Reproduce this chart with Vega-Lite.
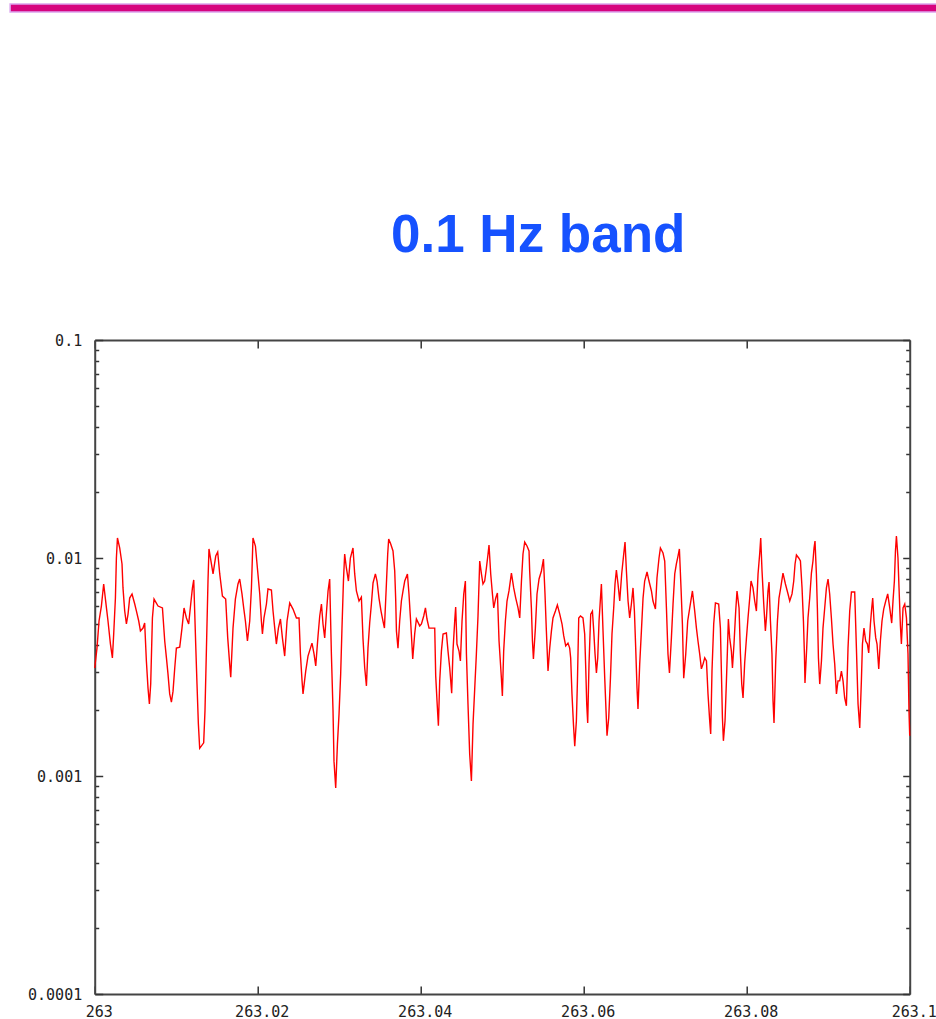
{
  "$schema": "https://vega.github.io/schema/vega-lite/v6.json",
  "background": "white",
  "padding": {"left": 9, "top": 3, "right": 0, "bottom": 0},
  "spacing": 197,
  "center": true,
  "config": {
    "view": {"stroke": null},
    "axis": {"grid": false, "domainColor": "#444444", "domainWidth": 2, "tickColor": "#333333", "tickWidth": 1.5, "labelFont": "DejaVu Sans Mono", "labelFontSize": 15, "labelColor": "#222222", "title": null}
  },
  "vconcat": [
    {
      "width": 1010,
      "height": 8,
      "data": {"values": [{}]},
      "mark": {"type": "rect", "fill": "#d6047f", "stroke": "#dba4ee", "strokeWidth": 1.5},
      "encoding": {}
    },
    {
      "width": 815,
      "height": 654,
      "title": {"text": "0.1 Hz band", "font": "Liberation Sans", "fontSize": 53, "fontWeight": "bold", "color": "#1652ff", "anchor": "middle", "frame": "group", "dx": 36, "offset": 28, "baseline": "alphabetic"},
      "data": {"values": [
        {"x":263.00000,"y":0.00313},{"x":263.00028,"y":0.00386},{"x":263.00053,"y":0.00514},{"x":263.00082,"y":0.00602},{"x":263.00110,"y":0.00760},
        {"x":263.00144,"y":0.00590},{"x":263.00163,"y":0.00514},{"x":263.00193,"y":0.00403},{"x":263.00217,"y":0.00348},{"x":263.00233,"y":0.00448},
        {"x":263.00254,"y":0.00655},{"x":263.00266,"y":0.01000},{"x":263.00279,"y":0.01235},{"x":263.00307,"y":0.01111},{"x":263.00335,"y":0.00939},
        {"x":263.00347,"y":0.00729},{"x":263.00368,"y":0.00571},{"x":263.00389,"y":0.00498},{"x":263.00409,"y":0.00553},{"x":263.00429,"y":0.00655},
        {"x":263.00458,"y":0.00684},{"x":263.00491,"y":0.00615},{"x":263.00512,"y":0.00571},{"x":263.00540,"y":0.00514},{"x":263.00561,"y":0.00463},
        {"x":263.00593,"y":0.00477},{"x":263.00613,"y":0.00503},{"x":263.00634,"y":0.00337},{"x":263.00654,"y":0.00253},{"x":263.00671,"y":0.00214},
        {"x":263.00687,"y":0.00264},{"x":263.00708,"y":0.00531},{"x":263.00728,"y":0.00648},{"x":263.00777,"y":0.00602},{"x":263.00831,"y":0.00590},
        {"x":263.00859,"y":0.00416},{"x":263.00880,"y":0.00348},{"x":263.00899,"y":0.00294},{"x":263.00920,"y":0.00238},{"x":263.00941,"y":0.00218},
        {"x":263.00961,"y":0.00245},{"x":263.00982,"y":0.00313},{"x":263.01002,"y":0.00386},{"x":263.01043,"y":0.00390},{"x":263.01071,"y":0.00477},
        {"x":263.01096,"y":0.00590},{"x":263.01125,"y":0.00531},{"x":263.01153,"y":0.00498},{"x":263.01178,"y":0.00615},{"x":263.01199,"y":0.00729},
        {"x":263.01215,"y":0.00793},{"x":263.01239,"y":0.00403},{"x":263.01255,"y":0.00264},{"x":263.01272,"y":0.00173},{"x":263.01288,"y":0.00134},
        {"x":263.01337,"y":0.00142},{"x":263.01353,"y":0.00199},{"x":263.01371,"y":0.00386},{"x":263.01390,"y":0.00784},{"x":263.01402,"y":0.01100},
        {"x":263.01432,"y":0.00939},{"x":263.01452,"y":0.00845},{"x":263.01485,"y":0.01021},{"x":263.01509,"y":0.01065},{"x":263.01534,"y":0.00845},
        {"x":263.01567,"y":0.00669},{"x":263.01607,"y":0.00648},{"x":263.01632,"y":0.00430},{"x":263.01656,"y":0.00326},{"x":263.01669,"y":0.00284},
        {"x":263.01697,"y":0.00477},{"x":263.01726,"y":0.00648},{"x":263.01758,"y":0.00760},{"x":263.01779,"y":0.00801},{"x":263.01807,"y":0.00684},
        {"x":263.01828,"y":0.00590},{"x":263.01849,"y":0.00514},{"x":263.01874,"y":0.00416},{"x":263.01902,"y":0.00514},{"x":263.01923,"y":0.00729},
        {"x":263.01942,"y":0.01235},{"x":263.01972,"y":0.01135},{"x":263.01996,"y":0.00900},{"x":263.02025,"y":0.00684},{"x":263.02045,"y":0.00514},
        {"x":263.02058,"y":0.00448},{"x":263.02077,"y":0.00531},{"x":263.02107,"y":0.00615},{"x":263.02126,"y":0.00721},{"x":263.02168,"y":0.00713},
        {"x":263.02188,"y":0.00571},{"x":263.02209,"y":0.00477},{"x":263.02229,"y":0.00403},{"x":263.02254,"y":0.00477},{"x":263.02279,"y":0.00525},
        {"x":263.02303,"y":0.00430},{"x":263.02331,"y":0.00355},{"x":263.02360,"y":0.00514},{"x":263.02393,"y":0.00622},{"x":263.02433,"y":0.00583},
        {"x":263.02475,"y":0.00531},{"x":263.02507,"y":0.00531},{"x":263.02524,"y":0.00363},{"x":263.02544,"y":0.00273},{"x":263.02556,"y":0.00238},
        {"x":263.02589,"y":0.00303},{"x":263.02617,"y":0.00355},{"x":263.02647,"y":0.00386},{"x":263.02666,"y":0.00407},{"x":263.02691,"y":0.00363},
        {"x":263.02712,"y":0.00320},{"x":263.02740,"y":0.00439},{"x":263.02761,"y":0.00542},{"x":263.02782,"y":0.00615},{"x":263.02801,"y":0.00498},
        {"x":263.02822,"y":0.00430},{"x":263.02843,"y":0.00559},{"x":263.02863,"y":0.00706},{"x":263.02883,"y":0.00801},{"x":263.02904,"y":0.00363},
        {"x":263.02924,"y":0.00199},{"x":263.02936,"y":0.00117},{"x":263.02957,"y":0.000881},{"x":263.02978,"y":0.00140},{"x":263.02998,"y":0.00193},
        {"x":263.03018,"y":0.00294},{"x":263.03034,"y":0.00477},{"x":263.03052,"y":0.00784},{"x":263.03067,"y":0.01043},{"x":263.03088,"y":0.00900},
        {"x":263.03113,"y":0.00784},{"x":263.03137,"y":0.01000},{"x":263.03169,"y":0.01111},{"x":263.03190,"y":0.00845},{"x":263.03211,"y":0.00706},
        {"x":263.03243,"y":0.00635},{"x":263.03272,"y":0.00662},{"x":263.03292,"y":0.00425},{"x":263.03313,"y":0.00313},{"x":263.03334,"y":0.00259},
        {"x":263.03353,"y":0.00386},{"x":263.03374,"y":0.00503},{"x":263.03395,"y":0.00615},{"x":263.03415,"y":0.00768},{"x":263.03444,"y":0.00845},
        {"x":263.03464,"y":0.00784},{"x":263.03488,"y":0.00655},{"x":263.03513,"y":0.00571},{"x":263.03537,"y":0.00514},{"x":263.03555,"y":0.00477},
        {"x":263.03579,"y":0.00760},{"x":263.03595,"y":0.01043},{"x":263.03607,"y":0.01222},{"x":263.03632,"y":0.01159},{"x":263.03660,"y":0.01077},
        {"x":263.03681,"y":0.00872},{"x":263.03693,"y":0.00648},{"x":263.03702,"y":0.00463},{"x":263.03721,"y":0.00386},{"x":263.03742,"y":0.00514},
        {"x":263.03763,"y":0.00635},{"x":263.03783,"y":0.00706},{"x":263.03804,"y":0.00784},{"x":263.03837,"y":0.00845},{"x":263.03856,"y":0.00684},
        {"x":263.03874,"y":0.00531},{"x":263.03890,"y":0.00416},{"x":263.03902,"y":0.00344},{"x":263.03926,"y":0.00448},{"x":263.03947,"y":0.00525},
        {"x":263.03988,"y":0.00488},{"x":263.04009,"y":0.00498},{"x":263.04037,"y":0.00542},{"x":263.04058,"y":0.00590},{"x":263.04077,"y":0.00525},
        {"x":263.04102,"y":0.00477},{"x":263.04172,"y":0.00477},{"x":263.04184,"y":0.00288},{"x":263.04200,"y":0.00221},{"x":263.04217,"y":0.00170},
        {"x":263.04233,"y":0.00273},{"x":263.04254,"y":0.00374},{"x":263.04274,"y":0.00448},{"x":263.04315,"y":0.00453},{"x":263.04335,"y":0.00374},
        {"x":263.04356,"y":0.00313},{"x":263.04380,"y":0.00240},{"x":263.04396,"y":0.00374},{"x":263.04417,"y":0.00514},{"x":263.04429,"y":0.00596},
        {"x":263.04445,"y":0.00403},{"x":263.04470,"y":0.00374},{"x":263.04487,"y":0.00337},{"x":263.04507,"y":0.00514},{"x":263.04528,"y":0.00684},
        {"x":263.04548,"y":0.00784},{"x":263.04561,"y":0.00363},{"x":263.04580,"y":0.00214},{"x":263.04601,"y":0.00126},{"x":263.04622,"y":0.000949},
        {"x":263.04642,"y":0.00173},{"x":263.04663,"y":0.00253},{"x":263.04683,"y":0.00363},{"x":263.04703,"y":0.00542},{"x":263.04724,"y":0.00969},
        {"x":263.04745,"y":0.00845},{"x":263.04764,"y":0.00760},{"x":263.04785,"y":0.00784},{"x":263.04806,"y":0.00900},{"x":263.04826,"y":0.01043},
        {"x":263.04838,"y":0.01147},{"x":263.04859,"y":0.00845},{"x":263.04880,"y":0.00684},{"x":263.04896,"y":0.00590},{"x":263.04920,"y":0.00655},
        {"x":263.04941,"y":0.00691},{"x":263.04961,"y":0.00416},{"x":263.04990,"y":0.00281},{"x":263.05002,"y":0.00233},{"x":263.05018,"y":0.00374},
        {"x":263.05039,"y":0.00514},{"x":263.05059,"y":0.00635},{"x":263.05083,"y":0.00706},{"x":263.05113,"y":0.00853},{"x":263.05141,"y":0.00729},
        {"x":263.05166,"y":0.00655},{"x":263.05194,"y":0.00590},{"x":263.05215,"y":0.00531},{"x":263.05236,"y":0.00784},{"x":263.05255,"y":0.01043},
        {"x":263.05276,"y":0.01184},{"x":263.05304,"y":0.01135},{"x":263.05329,"y":0.01077},{"x":263.05337,"y":0.00872},{"x":263.05358,"y":0.00590},
        {"x":263.05371,"y":0.00416},{"x":263.05383,"y":0.00344},{"x":263.05407,"y":0.00477},{"x":263.05427,"y":0.00684},{"x":263.05452,"y":0.00801},
        {"x":263.05481,"y":0.00872},{"x":263.05506,"y":0.00989},{"x":263.05525,"y":0.00684},{"x":263.05542,"y":0.00463},{"x":263.05562,"y":0.00303},
        {"x":263.05583,"y":0.00386},{"x":263.05604,"y":0.00463},{"x":263.05623,"y":0.00531},{"x":263.05653,"y":0.00571},{"x":263.05677,"y":0.00609},
        {"x":263.05706,"y":0.00553},{"x":263.05734,"y":0.00498},{"x":263.05755,"y":0.00439},{"x":263.05779,"y":0.00395},{"x":263.05807,"y":0.00407},
        {"x":263.05828,"y":0.00386},{"x":263.05840,"y":0.00348},{"x":263.05856,"y":0.00238},{"x":263.05874,"y":0.00173},{"x":263.05890,"y":0.00137},
        {"x":263.05910,"y":0.00179},{"x":263.05923,"y":0.00273},{"x":263.05939,"y":0.00531},{"x":263.05960,"y":0.00542},{"x":263.05991,"y":0.00531},
        {"x":263.06012,"y":0.00448},{"x":263.06025,"y":0.00313},{"x":263.06037,"y":0.00214},{"x":263.06049,"y":0.00175},{"x":263.06065,"y":0.00326},
        {"x":263.06086,"y":0.00553},{"x":263.06107,"y":0.00571},{"x":263.06123,"y":0.00463},{"x":263.06139,"y":0.00363},{"x":263.06156,"y":0.00297},
        {"x":263.06172,"y":0.00348},{"x":263.06188,"y":0.00514},{"x":263.06205,"y":0.00648},{"x":263.06217,"y":0.00760},{"x":263.06237,"y":0.00463},
        {"x":263.06258,"y":0.00281},{"x":263.06274,"y":0.00199},{"x":263.06286,"y":0.00153},{"x":263.06307,"y":0.00185},{"x":263.06328,"y":0.00281},
        {"x":263.06347,"y":0.00448},{"x":263.06368,"y":0.00590},{"x":263.06384,"y":0.00760},{"x":263.06401,"y":0.00881},{"x":263.06421,"y":0.00760},
        {"x":263.06442,"y":0.00635},{"x":263.06466,"y":0.00845},{"x":263.06491,"y":0.01043},{"x":263.06507,"y":0.01184},{"x":263.06524,"y":0.00872},
        {"x":263.06544,"y":0.00635},{"x":263.06564,"y":0.00531},{"x":263.06585,"y":0.00615},{"x":263.06605,"y":0.00729},{"x":263.06622,"y":0.00571},
        {"x":263.06638,"y":0.00386},{"x":263.06654,"y":0.00253},{"x":263.06666,"y":0.00203},{"x":263.06687,"y":0.00326},{"x":263.06708,"y":0.00463},
        {"x":263.06728,"y":0.00655},{"x":263.06748,"y":0.00784},{"x":263.06777,"y":0.00863},{"x":263.06801,"y":0.00784},{"x":263.06831,"y":0.00706},
        {"x":263.06850,"y":0.00635},{"x":263.06880,"y":0.00583},{"x":263.06899,"y":0.00810},{"x":263.06924,"y":0.01000},{"x":263.06941,"y":0.01111},
        {"x":263.06973,"y":0.01054},{"x":263.06994,"y":0.00969},{"x":263.07015,"y":0.00590},{"x":263.07034,"y":0.00363},{"x":263.07052,"y":0.00297},
        {"x":263.07076,"y":0.00430},{"x":263.07096,"y":0.00615},{"x":263.07117,"y":0.00845},{"x":263.07137,"y":0.00939},{"x":263.07157,"y":0.01021},
        {"x":263.07174,"y":0.01100},{"x":263.07194,"y":0.00729},{"x":263.07211,"y":0.00498},{"x":263.07227,"y":0.00281},{"x":263.07252,"y":0.00363},
        {"x":263.07276,"y":0.00514},{"x":263.07301,"y":0.00590},{"x":263.07334,"y":0.00706},{"x":263.07362,"y":0.00571},{"x":263.07383,"y":0.00477},
        {"x":263.07402,"y":0.00416},{"x":263.07423,"y":0.00363},{"x":263.07444,"y":0.00310},{"x":263.07464,"y":0.00326},{"x":263.07485,"y":0.00348},
        {"x":263.07506,"y":0.00337},{"x":263.07525,"y":0.00238},{"x":263.07546,"y":0.00179},{"x":263.07558,"y":0.00156},{"x":263.07574,"y":0.00303},
        {"x":263.07595,"y":0.00498},{"x":263.07616,"y":0.00622},{"x":263.07656,"y":0.00615},{"x":263.07677,"y":0.00477},{"x":263.07690,"y":0.00294},
        {"x":263.07702,"y":0.00185},{"x":263.07714,"y":0.00145},{"x":263.07734,"y":0.00179},{"x":263.07751,"y":0.00273},{"x":263.07763,"y":0.00374},
        {"x":263.07775,"y":0.00525},{"x":263.07791,"y":0.00430},{"x":263.07812,"y":0.00374},{"x":263.07825,"y":0.00313},{"x":263.07844,"y":0.00403},
        {"x":263.07865,"y":0.00571},{"x":263.07881,"y":0.00706},{"x":263.07906,"y":0.00590},{"x":263.07923,"y":0.00363},{"x":263.07939,"y":0.00264},
        {"x":263.07955,"y":0.00228},{"x":263.07975,"y":0.00330},{"x":263.07996,"y":0.00425},{"x":263.08016,"y":0.00531},{"x":263.08037,"y":0.00655},
        {"x":263.08053,"y":0.00784},{"x":263.08077,"y":0.00729},{"x":263.08098,"y":0.00635},{"x":263.08119,"y":0.00571},{"x":263.08139,"y":0.00845},
        {"x":263.08160,"y":0.01054},{"x":263.08172,"y":0.01235},{"x":263.08188,"y":0.00872},{"x":263.08209,"y":0.00615},{"x":263.08229,"y":0.00463},
        {"x":263.08242,"y":0.00531},{"x":263.08261,"y":0.00706},{"x":263.08274,"y":0.00776},{"x":263.08291,"y":0.00514},{"x":263.08310,"y":0.00363},
        {"x":263.08323,"y":0.00221},{"x":263.08335,"y":0.00175},{"x":263.08356,"y":0.00337},{"x":263.08377,"y":0.00514},{"x":263.08396,"y":0.00655},
        {"x":263.08417,"y":0.00729},{"x":263.08445,"y":0.00853},{"x":263.08475,"y":0.00760},{"x":263.08507,"y":0.00684},{"x":263.08528,"y":0.00635},
        {"x":263.08556,"y":0.00684},{"x":263.08577,"y":0.00784},{"x":263.08593,"y":0.00939},{"x":263.08610,"y":0.01032},{"x":263.08638,"y":0.01000},
        {"x":263.08659,"y":0.00969},{"x":263.08679,"y":0.00729},{"x":263.08696,"y":0.00514},{"x":263.08708,"y":0.00363},{"x":263.08715,"y":0.00267},
        {"x":263.08736,"y":0.00386},{"x":263.08752,"y":0.00531},{"x":263.08773,"y":0.00655},{"x":263.08794,"y":0.00853},{"x":263.08813,"y":0.00969},
        {"x":263.08826,"y":0.01111},{"x":263.08838,"y":0.01197},{"x":263.08855,"y":0.00845},{"x":263.08867,"y":0.00590},{"x":263.08880,"y":0.00348},
        {"x":263.08896,"y":0.00264},{"x":263.08917,"y":0.00337},{"x":263.08936,"y":0.00477},{"x":263.08957,"y":0.00590},{"x":263.08978,"y":0.00729},
        {"x":263.08998,"y":0.00801},{"x":263.09018,"y":0.00684},{"x":263.09039,"y":0.00531},{"x":263.09059,"y":0.00403},{"x":263.09080,"y":0.00326},
        {"x":263.09101,"y":0.00238},{"x":263.09120,"y":0.00273},{"x":263.09141,"y":0.00273},{"x":263.09162,"y":0.00303},{"x":263.09182,"y":0.00273},
        {"x":263.09202,"y":0.00228},{"x":263.09223,"y":0.00210},{"x":263.09243,"y":0.00386},{"x":263.09264,"y":0.00571},{"x":263.09285,"y":0.00698},
        {"x":263.09325,"y":0.00698},{"x":263.09346,"y":0.00386},{"x":263.09366,"y":0.00214},{"x":263.09387,"y":0.00166},{"x":263.09407,"y":0.00273},
        {"x":263.09420,"y":0.00403},{"x":263.09439,"y":0.00477},{"x":263.09460,"y":0.00416},{"x":263.09481,"y":0.00403},{"x":263.09497,"y":0.00367},
        {"x":263.09518,"y":0.00498},{"x":263.09534,"y":0.00590},{"x":263.09546,"y":0.00655},{"x":263.09562,"y":0.00514},{"x":263.09583,"y":0.00430},
        {"x":263.09599,"y":0.00403},{"x":263.09620,"y":0.00310},{"x":263.09640,"y":0.00416},{"x":263.09660,"y":0.00514},{"x":263.09681,"y":0.00583},
        {"x":263.09706,"y":0.00635},{"x":263.09730,"y":0.00684},{"x":263.09755,"y":0.00590},{"x":263.09779,"y":0.00503},{"x":263.09795,"y":0.00635},
        {"x":263.09812,"y":0.00784},{"x":263.09825,"y":0.01077},{"x":263.09837,"y":0.01262},{"x":263.09856,"y":0.01000},{"x":263.09869,"y":0.00729},
        {"x":263.09886,"y":0.00488},{"x":263.09898,"y":0.00403},{"x":263.09918,"y":0.00590},{"x":263.09939,"y":0.00615},{"x":263.09960,"y":0.00531},
        {"x":263.09979,"y":0.00363},{"x":263.09991,"y":0.00199},{"x":263.10000,"y":0.00153}
      ]},
      "layer": [
        {
          "mark": {"type": "line", "color": "#ff0000", "strokeWidth": 1.4},
          "encoding": {
            "x": {"field": "x", "type": "quantitative",
              "scale": {"domain": [263, 263.1], "nice": false, "zero": false},
              "axis": {"orient": "bottom", "values": [263, 263.02, 263.04, 263.06, 263.08, 263.1], "labelExpr": "'' + datum.value", "tickSize": -8, "labelPadding": 18, "labelFlush": false, "labelOffset": 4, "labelBaseline": "top", "labelOverlap": false}},
            "y": {"field": "y", "type": "quantitative",
              "scale": {"type": "log", "domain": [0.0001, 0.1], "nice": false},
              "axis": {"orient": "left",
                "values": [0.0001,0.0002,0.0003,0.0004,0.0005,0.0006,0.0007,0.0008,0.0009,0.001,0.002,0.003,0.004,0.005,0.006,0.007,0.008,0.009,0.01,0.02,0.03,0.04,0.05,0.06,0.07,0.08,0.09,0.1],
                "labelExpr": "abs(log(datum.value)/LN10 - round(log(datum.value)/LN10)) < 0.01 ? '' + datum.value : ''",
                "tickSize": {"condition": {"test": "abs(log(datum.value)/LN10 - round(log(datum.value)/LN10)) < 0.01", "value": -8}, "value": -4},
                "labelPadding": 21, "labelOverlap": false}}
          }
        },
        {
          "mark": {"type": "line", "opacity": 0},
          "encoding": {
            "x": {"field": "x", "type": "quantitative",
              "axis": {"orient": "top", "values": [263, 263.02, 263.04, 263.06, 263.08, 263.1], "labels": false, "tickSize": -8}},
            "y": {"field": "y", "type": "quantitative",
              "axis": {"orient": "right",
                "values": [0.0001,0.0002,0.0003,0.0004,0.0005,0.0006,0.0007,0.0008,0.0009,0.001,0.002,0.003,0.004,0.005,0.006,0.007,0.008,0.009,0.01,0.02,0.03,0.04,0.05,0.06,0.07,0.08,0.09,0.1],
                "labels": false,
                "tickSize": {"condition": {"test": "abs(log(datum.value)/LN10 - round(log(datum.value)/LN10)) < 0.01", "value": -7}, "value": -4}}}
          }
        }
      ],
      "resolve": {"axis": {"x": "independent", "y": "independent"}}
    }
  ]
}
